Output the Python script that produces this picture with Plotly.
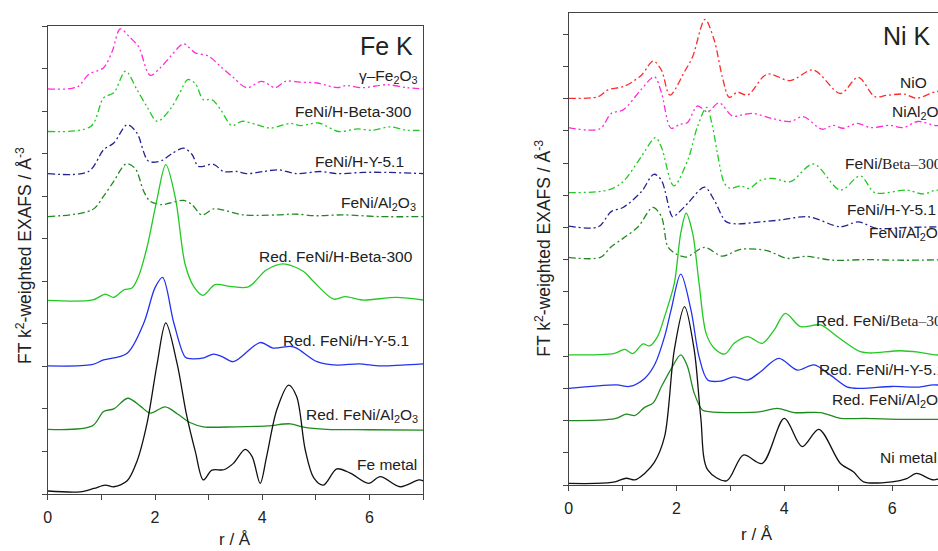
import plotly.graph_objects as go

# ---------------- Fe K edge (left panel) ----------------
fe_gamma_r = [0, 0.55, 0.76, 1.04, 1.2, 1.35, 1.54, 1.69, 1.91, 2.10, 2.3, 2.53, 2.75, 3.0, 3.22, 3.45, 3.71, 3.99, 4.24, 4.43, 4.7, 5.02, 5.4, 5.57, 5.87, 6.32, 6.7, 7.0]
fe_gamma_y = [9.52, 9.57, 9.86, 10.02, 10.4, 10.93, 10.72, 10.52, 9.84, 10.02, 10.3, 10.58, 10.37, 10.29, 10.05, 9.8, 9.55, 9.70, 9.55, 9.70, 9.68, 9.66, 9.55, 9.6, 9.55, 9.62, 9.55, 9.52]

fe_beta_r = [0, 0.8, 1.04, 1.23, 1.45, 1.66, 1.85, 2.04, 2.28, 2.45, 2.61, 2.75, 2.9, 3.06, 3.22, 3.43, 3.62, 3.9, 4.15, 4.52, 4.72, 5.05, 5.42, 5.77, 6.05, 6.38, 6.69, 7.0]
fe_beta_y = [8.52, 8.64, 9.31, 9.43, 9.94, 9.51, 9.1, 8.76, 9.04, 9.4, 9.74, 9.65, 9.27, 9.27, 9.04, 8.66, 8.76, 8.68, 8.60, 8.71, 8.66, 8.72, 8.52, 8.58, 8.55, 8.63, 8.55, 8.55]

fe_hy_r = [0, 0.76, 1.04, 1.23, 1.48, 1.66, 1.88, 2.13, 2.29, 2.53, 2.69, 2.81, 3.09, 3.28, 3.53, 3.71, 4.02, 4.30, 4.64, 5.08, 5.39, 5.9, 6.3, 7.0]
fe_hy_y = [7.53, 7.58, 8.09, 8.25, 8.68, 8.49, 7.82, 7.84, 7.98, 8.13, 7.98, 7.70, 7.75, 7.58, 7.58, 7.53, 7.58, 7.62, 7.53, 7.58, 7.53, 7.56, 7.56, 7.53]

fe_al_r = [0, 0.83, 1.04, 1.23, 1.46, 1.63, 1.79, 1.91, 2.13, 2.28, 2.53, 2.69, 2.87, 3.09, 3.28, 3.65, 4.27, 4.6, 5.0, 5.5, 6.2, 7.0]
fe_al_y = [6.52, 6.68, 7.0, 7.35, 7.76, 7.65, 7.11, 6.88, 6.80, 6.84, 6.90, 6.80, 6.56, 6.70, 6.67, 6.56, 6.56, 6.58, 6.54, 6.56, 6.52, 6.52]

fe_red_beta_r = [0, 0.84, 1.07, 1.23, 1.42, 1.57, 1.69, 1.85, 2.04, 2.2, 2.38, 2.56, 2.72, 2.89, 3.12, 3.4, 3.74, 4.08, 4.39, 4.77, 4.95, 5.33, 5.55, 5.86, 6.5, 7.0]
fe_red_beta_y = [4.55, 4.56, 4.70, 4.62, 4.80, 4.84, 5.11, 5.80, 6.95, 7.74, 6.95, 5.40, 4.88, 4.67, 4.92, 4.88, 4.87, 5.27, 5.41, 5.23, 5.0, 4.58, 4.64, 4.56, 4.62, 4.56]

fe_red_hy_r = [0, 0.82, 1.04, 1.48, 1.79, 2.0, 2.14, 2.35, 2.56, 2.66, 2.91, 3.09, 3.25, 3.46, 3.96, 4.2, 4.52, 4.64, 5.02, 5.39, 5.8, 6.2, 6.6, 7.0]
fe_red_hy_y = [3.01, 3.04, 3.15, 3.31, 4.02, 4.85, 5.09, 4.02, 3.22, 3.18, 3.2, 3.29, 3.23, 3.11, 3.56, 3.43, 3.47, 3.43, 3.11, 3.03, 3.06, 3.01, 3.03, 3.06]

fe_red_al_r = [0, 0.83, 1.04, 1.23, 1.49, 1.73, 1.91, 2.19, 2.42, 2.65, 2.9, 3.5, 4.1, 4.52, 4.77, 5.2, 6.0, 7.0]
fe_red_al_y = [1.52, 1.60, 1.94, 2.0, 2.25, 2.06, 1.90, 2.05, 1.88, 1.68, 1.58, 1.58, 1.6, 1.65, 1.57, 1.52, 1.51, 1.50]

fe_metal_r = [0, 0.6, 0.86, 1.07, 1.23, 1.48, 1.66, 1.85, 2.04, 2.2, 2.41, 2.59, 2.75, 2.9, 3.06, 3.28, 3.46, 3.68, 3.81, 3.96, 4.08, 4.27, 4.49, 4.64, 4.80, 4.96, 5.14, 5.39, 5.64, 5.98, 6.2, 6.57, 6.92, 7.0]
fe_metal_y = [0.07, 0.05, 0.13, 0.21, 0.17, 0.31, 0.76, 1.66, 3.07, 4.02, 3.07, 1.84, 1.0, 0.33, 0.56, 0.57, 0.72, 1.05, 0.88, 0.25, 0.88, 1.98, 2.56, 2.29, 1.04, 0.38, 0.21, 0.59, 0.49, 0.25, 0.41, 0.17, 0.33, 0.31]

# ---------------- Ni K edge (right panel) ----------------
ni_nio_r = [0, 0.55, 0.73, 1.04, 1.35, 1.57, 1.72, 1.88, 2.15, 2.30, 2.53, 2.70, 2.85, 2.98, 3.13, 3.32, 3.68, 4.11, 4.54, 5.04, 5.37, 5.68, 5.89, 6.23, 6.45, 6.82, 7.0]
ni_nio_y = [12.01, 12.06, 12.27, 12.39, 12.73, 13.17, 12.89, 12.11, 12.84, 13.30, 14.46, 13.82, 12.68, 12.04, 12.2, 12.11, 12.76, 12.56, 12.89, 12.16, 12.66, 12.06, 12.1, 12.14, 12.01, 12.22, 12.2]

ni_nial_r = [0, 0.58, 0.79, 1.01, 1.35, 1.59, 1.72, 1.90, 2.06, 2.2, 2.39, 2.58, 2.79, 3.04, 3.23, 3.43, 3.76, 4.11, 4.35, 4.7, 4.91, 5.09, 5.35, 5.6, 5.96, 6.2, 6.48, 6.82, 7.0]
ni_nial_y = [11.10, 11.06, 11.54, 11.65, 12.29, 12.68, 12.2, 11.08, 11.2, 11.25, 11.77, 11.59, 11.87, 11.46, 11.5, 11.54, 11.39, 11.29, 11.44, 11.05, 11.17, 11.08, 11.23, 11.1, 11.17, 11.1, 11.29, 11.16, 11.2]

ni_beta_r = [0, 0.55, 0.8, 1.01, 1.35, 1.61, 1.72, 1.95, 2.21, 2.39, 2.56, 2.67, 2.76, 2.89, 3.0, 3.19, 3.35, 3.56, 3.8, 4.11, 4.54, 5.04, 5.41, 5.68, 6.27, 6.58, 6.82, 7.0]
ni_beta_y = [9.08, 9.11, 9.2, 9.42, 10.2, 10.79, 10.5, 9.29, 10.09, 11.13, 11.73, 11.13, 10.30, 9.37, 9.21, 9.29, 9.21, 9.47, 9.52, 9.42, 9.97, 9.16, 9.60, 9.08, 9.16, 9.04, 9.16, 9.12]

ni_hy_r = [0, 0.55, 0.79, 1.01, 1.35, 1.58, 1.72, 1.93, 2.02, 2.21, 2.52, 2.70, 2.92, 3.14, 3.43, 3.92, 4.45, 5.04, 5.37, 5.71, 6.27, 7.0]
ni_hy_y = [8.04, 8.02, 8.49, 8.62, 9.11, 9.65, 9.47, 8.33, 8.43, 8.75, 9.25, 8.85, 8.18, 8.11, 8.15, 8.23, 8.33, 8.02, 8.17, 7.97, 8.0, 8.02]

ni_al_r = [0, 0.59, 0.79, 1.01, 1.29, 1.56, 1.72, 1.84, 1.97, 2.18, 2.52, 2.85, 3.19, 3.68, 4.05, 4.41, 4.91, 5.5, 6.2, 7.0]
ni_al_y = [7.07, 7.07, 7.40, 7.66, 8.02, 8.62, 8.34, 7.40, 7.2, 7.08, 7.38, 7.11, 7.32, 7.28, 7.04, 7.10, 6.98, 7.0, 6.98, 7.0]

ni_red_beta_r = [0, 0.85, 1.04, 1.19, 1.38, 1.5, 1.65, 1.78, 1.96, 2.08, 2.18, 2.30, 2.42, 2.55, 2.70, 2.90, 3.07, 3.32, 3.59, 3.81, 4.02, 4.30, 4.67, 4.98, 5.41, 5.6, 6.15, 6.51, 6.82, 7.0]
ni_red_beta_y = [4.04, 4.09, 4.21, 4.08, 4.38, 4.32, 4.61, 5.23, 6.26, 7.82, 8.44, 7.82, 6.26, 4.71, 4.25, 4.07, 4.40, 4.61, 4.40, 4.81, 5.33, 4.92, 4.97, 4.61, 4.14, 4.10, 4.17, 4.12, 4.04, 4.05]

ni_red_hy_r = [0, 0.89, 1.13, 1.41, 1.6, 1.78, 1.90, 2.08, 2.27, 2.42, 2.58, 2.83, 3.07, 3.32, 3.56, 3.90, 4.24, 4.55, 4.85, 5.16, 5.4, 6.0, 6.5, 6.76, 7.0]
ni_red_hy_y = [3.0, 3.11, 3.06, 3.31, 3.75, 4.61, 5.43, 6.55, 5.43, 3.98, 3.26, 3.23, 3.36, 3.26, 3.52, 3.93, 3.57, 3.73, 3.42, 3.05, 3.0, 3.06, 3.04, 3.11, 3.08]

ni_red_al_r = [0, 0.86, 1.07, 1.23, 1.41, 1.57, 1.72, 1.9, 2.08, 2.2, 2.33, 2.48, 2.6, 3.19, 3.56, 3.87, 4.18, 4.67, 5.04, 5.5, 6.2, 7.0]
ni_red_al_y = [2.0, 2.06, 2.2, 2.16, 2.41, 2.55, 3.05, 3.6, 4.04, 3.7, 2.85, 2.33, 2.28, 2.25, 2.28, 2.38, 2.25, 2.25, 2.07, 2.07, 2.04, 2.04]

ni_metal_r = [0, 0.49, 0.86, 1.07, 1.23, 1.41, 1.59, 1.78, 1.96, 2.15, 2.33, 2.45, 2.58, 2.93, 3.24, 3.59, 4.0, 4.33, 4.64, 5.04, 5.28, 5.47, 6.0, 6.27, 6.45, 6.77, 7.0]
ni_metal_y = [0.05, 0.05, 0.1, 0.21, 0.16, 0.36, 0.7, 1.5, 4.19, 5.54, 4.19, 2.12, 0.47, 0.13, 0.93, 0.67, 2.07, 1.19, 1.73, 0.67, 0.41, 0.10, 0.10, 0.2, 0.36, 0.16, 0.3]

# ---------------- styles ----------------
DD = "7px,3px,2px,3px"            # dash-dot
DDD = "7px,3px,2px,3px,2px,3px"   # dash-dot-dot
MAGENTA = "#ff2bd6"
LGREEN = "#22c922"
DGREEN = "#1f8a1f"
NAVY = "#22228f"
BLUE = "#2233ee"
RED = "#ff2a2a"
BLACK = "#111111"

W, H = 938, 551
FONT = "Arial, Liberation Sans, sans-serif"
TXT = "#222222"
LBL = 15.5


def px(x):
    return x / W


def py(y):
    return 1 - y / H


fig = go.Figure()

left_series = [
    (fe_gamma_r, fe_gamma_y, MAGENTA, DDD),
    (fe_beta_r, fe_beta_y, LGREEN, DDD),
    (fe_hy_r, fe_hy_y, NAVY, DD),
    (fe_al_r, fe_al_y, DGREEN, DD),
    (fe_red_beta_r, fe_red_beta_y, LGREEN, "solid"),
    (fe_red_hy_r, fe_red_hy_y, BLUE, "solid"),
    (fe_red_al_r, fe_red_al_y, DGREEN, "solid"),
    (fe_metal_r, fe_metal_y, BLACK, "solid"),
]
right_series = [
    (ni_nio_r, ni_nio_y, RED, DD),
    (ni_nial_r, ni_nial_y, MAGENTA, DDD),
    (ni_beta_r, ni_beta_y, LGREEN, DDD),
    (ni_hy_r, ni_hy_y, NAVY, DD),
    (ni_al_r, ni_al_y, DGREEN, DD),
    (ni_red_beta_r, ni_red_beta_y, LGREEN, "solid"),
    (ni_red_hy_r, ni_red_hy_y, BLUE, "solid"),
    (ni_red_al_r, ni_red_al_y, DGREEN, "solid"),
    (ni_metal_r, ni_metal_y, BLACK, "solid"),
]

for r, y, c, d in left_series:
    fig.add_trace(go.Scatter(x=r, y=y, mode="lines", xaxis="x", yaxis="y",
                             line=dict(color=c, width=1.3, dash=d, shape="spline", smoothing=0.9),
                             showlegend=False, hoverinfo="skip"))
for r, y, c, d in right_series:
    fig.add_trace(go.Scatter(x=r, y=y, mode="lines", xaxis="x2", yaxis="y2",
                             line=dict(color=c, width=1.3, dash=d, shape="spline", smoothing=0.9),
                             showlegend=False, hoverinfo="skip"))

axis_common = dict(showgrid=False, zeroline=False, showline=True, linecolor="#444444", linewidth=1,
                   ticks="outside", ticklen=5, tickcolor="#444444", tickwidth=1)
minor_x = dict(ticks="outside", ticklen=5, dtick=1, tickcolor="#444444", showgrid=False)

fig.update_layout(
    width=W, height=H,
    margin=dict(l=0, r=0, t=0, b=0),
    paper_bgcolor="white", plot_bgcolor="white",
    font=dict(family=FONT, color=TXT),
    showlegend=False,
    xaxis=dict(domain=[px(44), px(421)], range=[0, 7], tick0=0, dtick=2, minor=minor_x,
               tickfont=dict(size=16, color=TXT), mirror=True, anchor="y", ticklabelstandoff=4,
               **axis_common),
    yaxis=dict(domain=[py(494), py(26)], range=[0, 11], tick0=0, dtick=1,
               showticklabels=False, mirror=True, anchor="x", **axis_common),
    xaxis2=dict(domain=[px(567), 1.0], range=[0, 6.85], tick0=0, dtick=2, minor=minor_x,
                tickfont=dict(size=16, color=TXT), mirror=True, anchor="y2", ticklabelstandoff=4,
                **axis_common),
    yaxis2=dict(domain=[py(485), py(13)], range=[0, 14.66], tick0=0, dtick=1,
                showticklabels=False, mirror=False, anchor="x2", **axis_common),
)

ytitle = "FT k<sup>2</sup>-weighted EXAFS / Å<sup>-3</sup>"
ann = []
# axis titles
ann.append(dict(x=px(20), y=py(255), text=ytitle, textangle=-90, font=dict(size=17.5)))
ann.append(dict(x=px(541), y=py(248), text=ytitle, textangle=-90, font=dict(size=17.5)))
ann.append(dict(x=px(232), y=py(539), text="r / Å", font=dict(size=17)))
ann.append(dict(x=px(756), y=py(534), text="r / Å", font=dict(size=17)))
# panel titles
ann.append(dict(x=px(413), y=py(46), text="Fe K", xanchor="right", font=dict(size=25)))
ann.append(dict(x=px(881), y=py(36), text="Ni K", xanchor="left", font=dict(size=25)))

serif = "<span style='font-family:Liberation Serif, Times New Roman, serif'>Beta–300</span>"
left_labels = [
    ("γ–Fe<sub>2</sub>O<sub>3</sub>", 418, 77),
    ("FeNi/H-Beta-300", 412, 111),
    ("FeNi/H-Y-5.1", 404, 161),
    ("FeNi/Al<sub>2</sub>O<sub>3</sub>", 416, 203),
    ("Red. FeNi/H-Beta-300", 413, 256),
    ("Red. FeNi/H-Y-5.1", 409, 340),
    ("Red. FeNi/Al<sub>2</sub>O<sub>3</sub>", 418, 415),
    ("Fe metal", 417, 464),
]
for t, x, y in left_labels:
    ann.append(dict(x=px(x), y=py(y), text=t, xanchor="right", font=dict(size=LBL)))

right_labels = [
    ("NiO", 898, 82),
    ("NiAl<sub>2</sub>O<sub>4</sub>", 890, 113),
    ("FeNi/" + serif, 843, 163),
    ("FeNi/H-Y-5.1", 845, 209),
    ("FeNi/Al<sub>2</sub>O<sub>3</sub>", 867, 233),
    ("Red. FeNi/" + serif, 813, 320),
    ("Red. FeNi/H-Y-5.1", 816, 369),
    ("Red. FeNi/Al<sub>2</sub>O<sub>3</sub>", 830, 400),
    ("Ni metal", 878, 457),
]
for t, x, y in right_labels:
    ann.append(dict(x=px(x), y=py(y), text=t, xanchor="left", font=dict(size=LBL)))

for a in ann:
    a.update(xref="paper", yref="paper", showarrow=False)
    a.setdefault("xanchor", "center")
    a["yanchor"] = "middle"
fig.update_layout(annotations=ann)

fig.write_html("out.html", config={"displayModeBar": False, "staticPlot": True},
               post_script="document.body.style.margin='0px';document.body.style.overflow='hidden';")
